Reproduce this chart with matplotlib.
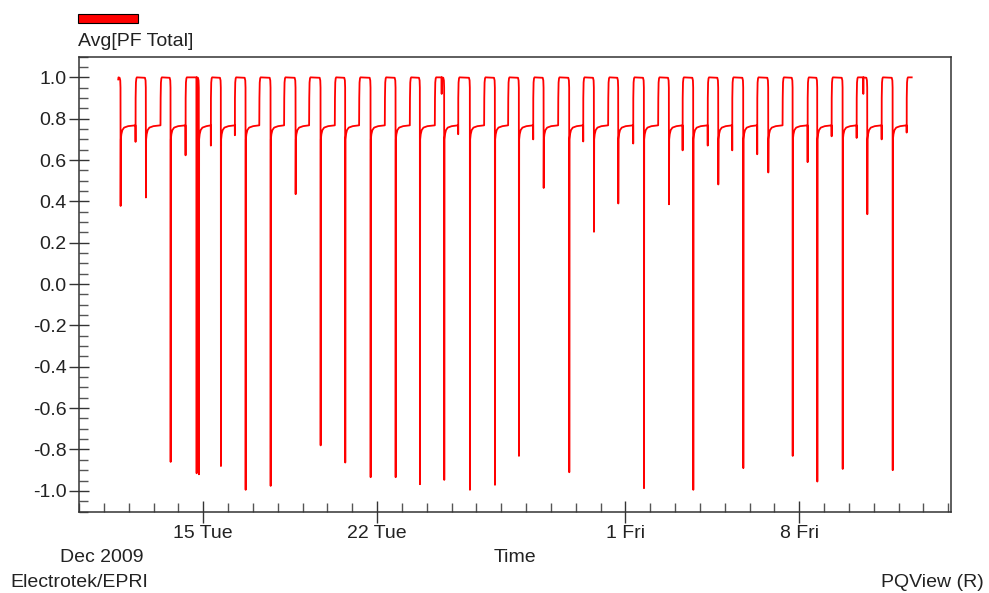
import datetime as dt
import matplotlib
matplotlib.use('Agg')
import matplotlib.pyplot as plt
import matplotlib.dates as mdates
from matplotlib.patches import Rectangle
from matplotlib.ticker import MultipleLocator, FormatStrFormatter, FuncFormatter

plt.rcParams['font.family'] = ['Liberation Sans', 'DejaVu Sans']
plt.rcParams['axes.unicode_minus'] = False

# all times are days after 10 Dec 2009 00:00
t0 = dt.datetime(2009, 12, 10)
first_on = 1.579
last_off = 33.527

# end of each PF=1 period and the spike that follows it
fall_t = [1.675, 2.694, 3.689, 4.828, 5.714, 6.709, 7.716, 8.722, 9.729, 10.720,
          11.742, 12.749, 13.728, 14.706, 15.741, 16.748, 17.714, 18.709, 19.740, 20.734,
          21.713, 22.748, 23.754, 24.733, 25.740, 26.747, 27.753, 28.736, 29.727, 30.749,
          31.740, 32.763]
fall_min = [0.378, 0.419, -0.86, -0.92, -0.88, -0.995, -0.976, 0.435, -0.78, -0.863,
            -0.934, -0.934, -0.968, -0.947, -0.995, -0.971, -0.831, 0.465, -0.91, 0.253,
            0.39, -0.987, 0.386, -0.995, 0.482, -0.89, 0.54, -0.831, -0.955, -0.894,
            0.338, -0.90]

# start of the next PF=1 period and the dip just before it (None = no dip)
rise_t = [2.279, 3.286, 4.293, 5.311, 6.278, 7.264, 8.263, 9.270, 10.305, 11.283,
          12.318, 13.325, 14.332, 15.270, 16.317, 17.283, 18.290, 19.297, 20.304, 21.310,
          22.317, 23.324, 24.306, 25.317, 26.304, 27.310, 28.333, 29.339, 30.306, 31.313,
          32.320, 33.327]
rise_dip = [0.688, None, 0.623, 0.67, 0.72, None, None, None, None, None,
            None, None, None, 0.725, None, None, 0.70, None, 0.69, None,
            0.68, None, 0.647, 0.67, 0.647, 0.628, None, 0.59, 0.715, 0.707,
            0.70, 0.733]

# odd dips while PF is near 1
extra_t = [4.736, 14.602, 31.579]
extra_pf = [-0.915, 0.92, 0.92]

# typical night shape after the spike (days after spike, PF)
night_dt = [0.008, 0.03, 0.07, 0.14, 0.30]
night_pf = [0.70, 0.725, 0.745, 0.757, 0.764]

pts = [(first_on, 0.99), (first_on + 0.01, 1.0)]
for k in range(len(fall_t)):
    f, r = fall_t[k], rise_t[k]
    pts += [(f - 0.04, 0.998), (f - 0.015, 0.985), (f - 0.005, 0.95), (f, fall_min[k])]
    for d, v in zip(night_dt, night_pf):
        if f + d < r - 0.01:
            pts.append((f + d, v))
    pts.append((r - 0.006, 0.768))
    if rise_dip[k] is not None:
        pts += [(r - 0.003, rise_dip[k]), (r - 0.001, 0.768)]
    pts += [(r, 0.90), (r + 0.012, 0.975), (r + 0.03, 0.995), (r + 0.05, 1.0)]
pts.append((last_off, 1.0))
for et, ev in zip(extra_t, extra_pf):
    pts += [(et - 0.004, 1.0), (et, ev), (et + 0.004, 1.0)]
pts.sort()

base = mdates.date2num(t0)
xs = [base + p[0] for p in pts]
ys = [p[1] for p in pts]

fig = plt.figure(figsize=(9.89, 5.93), dpi=100)
ax = fig.add_axes([0.0799, 0.1374, 0.8817, 0.7670])
ax.plot(xs, ys, color='#ff0000', lw=1.3)

ax.set_xlim(base, base + 35.11)
ax.set_ylim(-1.1, 1.1)

ax.xaxis.set_major_locator(mdates.DayLocator(bymonthday=[1, 8, 15, 22]))
ax.xaxis.set_minor_locator(mdates.DayLocator())
ax.xaxis.set_major_formatter(FuncFormatter(
    lambda v, pos: '%d %s' % (mdates.num2date(v).day, mdates.num2date(v).strftime('%a'))))
ax.yaxis.set_major_locator(MultipleLocator(0.2))
ax.yaxis.set_minor_locator(MultipleLocator(0.05))
ax.yaxis.set_major_formatter(FormatStrFormatter('%.1f'))

fs = 14
ax.tick_params(axis='x', which='major', direction='inout', length=16, width=1,
               color='#333333', labelsize=fs, labelcolor='#222222', pad=2)
ax.tick_params(axis='y', which='major', direction='inout', length=14.5, width=1,
               color='#333333', labelsize=fs, labelcolor='#222222', pad=1.5)
ax.tick_params(which='minor', direction='in', length=6.5, width=1, color='#555555')

for s in ax.spines.values():
    s.set_color('#333333')
    s.set_linewidth(1.1)

fig.patches.append(Rectangle((0.0789, 0.9612), 0.0607, 0.0152, transform=fig.transFigure,
                             facecolor='#ff0000', edgecolor='black', lw=0.8))
fig.text(0.0789, 0.9292, 'Avg[PF Total]', fontsize=fs, color='#222222', va='center')
fig.text(0.1456, 0.0607, 'Dec 2009', fontsize=fs, color='#222222', ha='right', va='center')
fig.text(0.5204, 0.0607, 'Time', fontsize=fs, color='#222222', ha='center', va='center')
fig.text(0.0101, 0.0169, 'Electrotek/EPRI', fontsize=fs, color='#222222', va='center')
fig.text(0.995, 0.0169, 'PQView (R)', fontsize=fs, color='#222222', ha='right', va='center')

fig.savefig('out.png', dpi=100)
